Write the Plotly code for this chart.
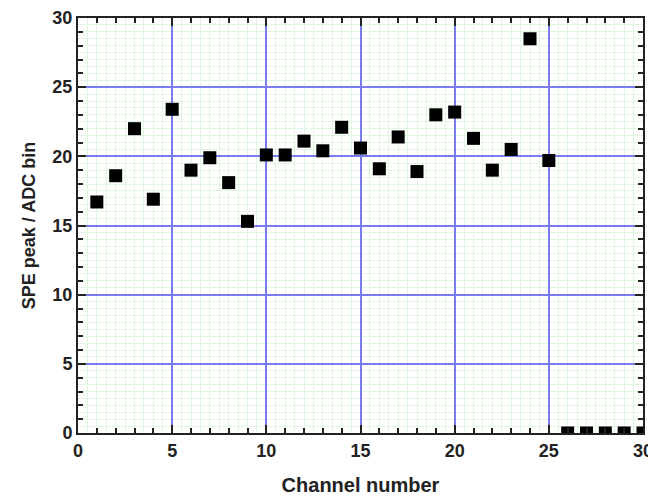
import plotly.graph_objects as go

channels = list(range(1, 31))
spe_peak = [16.7, 18.6, 22.0, 16.9, 23.4, 19.0, 19.9, 18.1, 15.3, 20.1,
            20.1, 21.1, 20.4, 22.1, 20.6, 19.1, 21.4, 18.9, 23.0, 23.2,
            21.3, 19.0, 20.5, 28.5, 19.7, 0, 0, 0, 0, 0]

x_title = "Channel number"
y_title = "SPE peak / ADC bin"

font_fam = "Liberation Sans, Arial, sans-serif"
tick_font = dict(family=font_fam, size=18, color="#222", weight="bold")
xtitle_font = dict(family=font_fam, size=20, color="#222", weight="bold")
ytitle_font = dict(family=font_fam, size=18, color="#222", weight="bold")

blue = "#7b7bf0"
green = "#e0f6e0"
ink = "#222"

fig = go.Figure()
# invisible carrier so the minor-tick overlay axes get drawn
fig.add_trace(go.Scatter(
    x=channels, y=spe_peak, xaxis="x2", yaxis="y2", mode="markers",
    marker=dict(opacity=0), hoverinfo="skip", showlegend=False,
))
fig.add_trace(go.Scatter(
    x=channels, y=spe_peak, mode="markers",
    marker=dict(symbol="square", size=13, color="black", line=dict(width=0)),
    showlegend=False, cliponaxis=True,
))

# page body has an 8px margin, so the figure is sized/offset to compensate
fig.update_layout(
    width=648, height=488,
    margin=dict(l=70, r=13, t=10, b=63),
    plot_bgcolor="white", paper_bgcolor="white",
    xaxis=dict(
        range=[0, 30], dtick=5, tick0=0, automargin=False,
        showgrid=True, gridcolor=blue, gridwidth=2,
        minor=dict(dtick=0.5, showgrid=True, gridcolor=green, gridwidth=1, ticks=""),
        ticks="inside", ticklen=8, tickwidth=2, tickcolor=ink,
        showline=True, linecolor=ink, linewidth=2, mirror="ticks",
        tickfont=tick_font, zeroline=False,
        title=dict(text=x_title, font=xtitle_font, standoff=20),
    ),
    yaxis=dict(
        range=[0, 30], dtick=5, tick0=0, automargin=False,
        showgrid=True, gridcolor=blue, gridwidth=2,
        minor=dict(dtick=0.5, showgrid=True, gridcolor=green, gridwidth=1, ticks=""),
        ticks="inside", ticklen=8, tickwidth=2, tickcolor=ink,
        showline=True, linecolor=ink, linewidth=2, mirror="ticks",
        tickfont=tick_font, zeroline=False,
        title=dict(text=y_title, font=ytitle_font, standoff=12),
    ),
    xaxis2=dict(
        overlaying="x", anchor="y2", side="bottom", range=[0, 30], dtick=1, tick0=0,
        showgrid=False, showticklabels=False, zeroline=False, automargin=False,
        ticks="inside", ticklen=5, tickwidth=2, tickcolor=ink, mirror="ticks",
        showline=False,
    ),
    yaxis2=dict(
        overlaying="y", anchor="x2", side="left", range=[0, 30], dtick=1, tick0=0,
        showgrid=False, showticklabels=False, zeroline=False, automargin=False,
        ticks="inside", ticklen=5, tickwidth=2, tickcolor=ink, mirror="ticks",
        showline=False,
    ),
)

fig.write_html("out.html")
